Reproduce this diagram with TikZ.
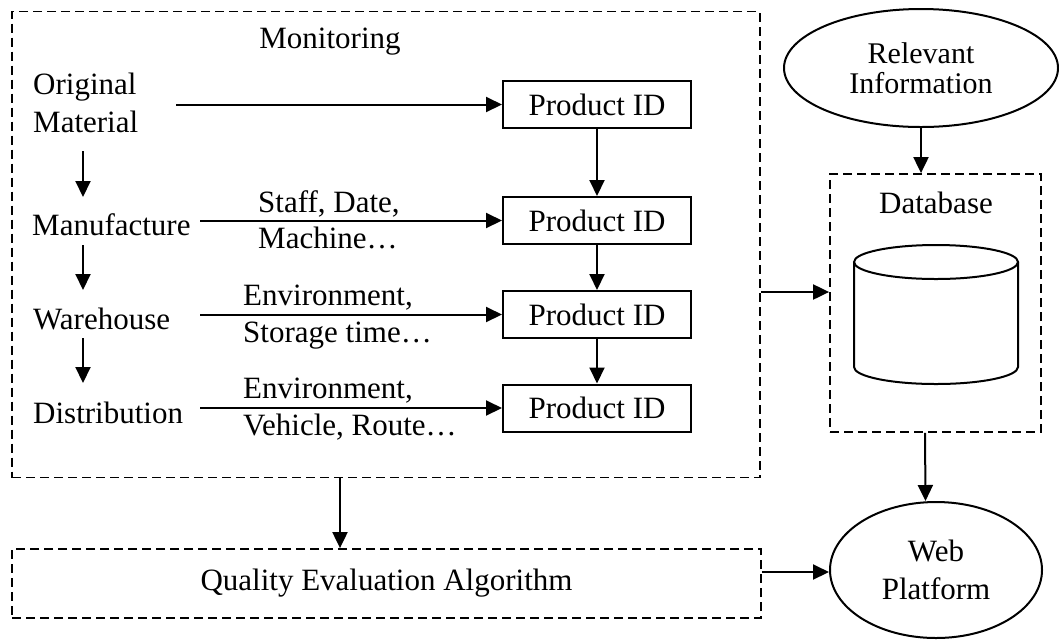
\documentclass[tikz,border=0pt]{standalone}
\usepackage{fontspec}
\setmainfont{Liberation Serif}
\usetikzlibrary{arrows.meta,shapes.geometric}

\begin{document}
\begin{tikzpicture}[x=1pt,y=-1pt,
  every node/.style={font=\fontsize{31}{38}\selectfont, inner sep=0pt},
  lbl/.style={anchor=base west},
  pid/.style={draw, line width=2pt, minimum width=188pt, minimum height=47pt},
  dbox/.style={draw, line width=1.8pt, dash pattern=on 9pt off 5pt},
  arr/.style={line width=2pt, -{Triangle[length=16pt,width=15pt]}},
  oval/.style={draw, ellipse, line width=2pt, align=center}
]
\useasboundingbox (0,0) rectangle (1059,641);

% monitoring frame
\node[dbox, minimum width=748pt, minimum height=466pt] (mon) at (386,244.5) {};
\node[anchor=base] (montitle) at (330,48) {Monitoring};

% stages
\node[lbl, align=left] (om) at (33,132) {Original\\Material};
\node[lbl] (mf) at (32,235) {Manufacture};
\node[lbl] (wh) at (33,329) {Warehouse};
\node[lbl] (di) at (33,423) {Distribution};

% product identifiers
\node[pid] (p1) at (597,104.5) {Product ID};
\node[pid] (p2) at (597,220.5) {Product ID};
\node[pid] (p3) at (597,314.5) {Product ID};
\node[pid] (p4) at (597,408) {Product ID};

% recorded data
\node[lbl] (l1a) at (258,212) {Staff, Date,};
\node[lbl] (l1b) at (258,248) {Machine…};
\node[lbl] (l2a) at (243,305) {Environment,};
\node[lbl] (l2b) at (243,342) {Storage time…};
\node[lbl] (l3a) at (243,398) {Environment,};
\node[lbl] (l3b) at (243,435) {Vehicle, Route…};

\coordinate (hs) at (200,0);
\coordinate (vs) at (83,0);
\coordinate (os) at (176,0);

% flow of stages
\draw[arr] (vs |- 0,151) -- (vs |- 0,197);
\draw[arr] (vs |- 0,245) -- (vs |- 0,290);
\draw[arr] (vs |- 0,338) -- (vs |- 0,383);

% stage data to identifiers
\draw[arr] (os |- p1.west) -- (p1.west);
\draw[arr] (hs |- p2.west) -- (p2.west);
\draw[arr] (hs |- p3.west) -- (p3.west);
\draw[arr] (hs |- p4.west) -- (p4.west);

\draw[arr] (p1.south) -- (p2.north);
\draw[arr] (p2.south) -- (p3.north);
\draw[arr] (p3.south) -- (p4.north);

% database
\node[oval, minimum width=274pt, minimum height=118pt, font=\fontsize{30}{30}\selectfont] (ri) at (921,68) {Relevant\\Information};
\node[dbox, minimum width=211pt, minimum height=258pt] (db) at (935.5,303) {};
\node[anchor=base] (dbtitle) at (936,213) {Database};
\draw[line width=2pt] (854,262) -- (854,367) arc[start angle=180, end angle=0, x radius=82, y radius=17] -- (1018,262);
\draw[line width=2pt] (936,262) ellipse[x radius=82, y radius=17];

% evaluation and platform
\node[dbox, minimum width=749pt, minimum height=69pt] (qea) at (386.5,583.5) {Quality Evaluation Algorithm};
\node[oval, minimum width=212pt, minimum height=136pt] (wp) at (936,570) {Web\\Platform};

\draw[arr] ([yshift=-47.5pt]mon.east) coordinate (m2d) -- (m2d -| db.west);
\draw[arr] (ri.south) -- (ri.south |- db.north);
\draw[arr] ([xshift=-10.5pt]db.south) -- ([xshift=-10.5pt]wp.north);
\draw[arr] ([xshift=-46pt]mon.south) coordinate (m2q) -- (m2q |- qea.north);
\draw[arr] ([yshift=11.5pt]qea.east) coordinate (q2w) -- (q2w -| wp.west);
\end{tikzpicture}
\end{document}
